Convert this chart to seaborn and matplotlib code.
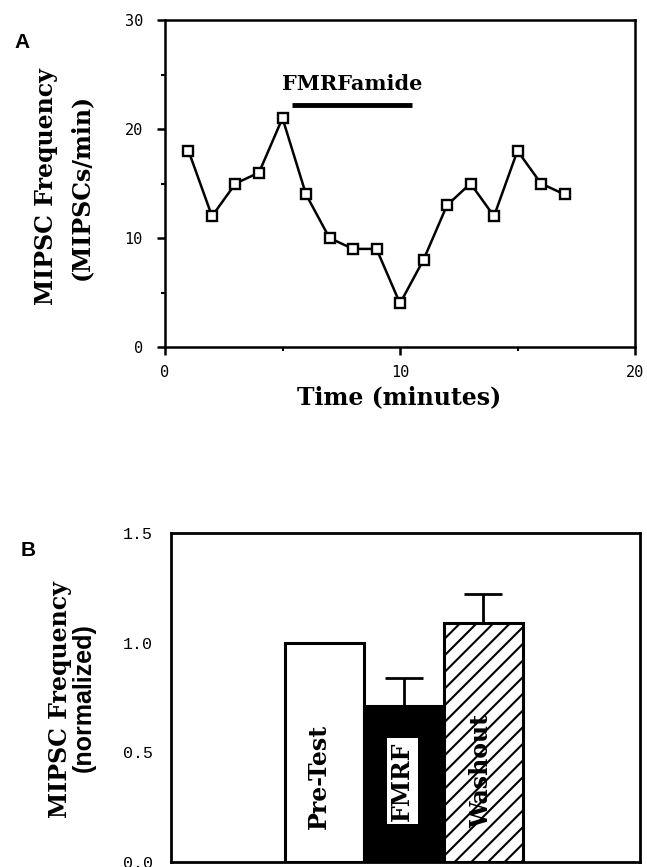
import matplotlib
matplotlib.use("Agg")
import matplotlib.pyplot as plt
import seaborn as sns
import pandas as pd

# ---- data ----
time_min = [1, 2, 3, 4, 5, 6, 7, 8, 9, 10, 11, 12, 13, 14, 15, 16, 17]
mipsc_freq = [18, 12, 15, 16, 21, 14, 10, 9, 9, 4, 8, 13, 15, 12, 18, 15, 14]
drug_start, drug_end, drug_level = 5.4, 10.5, 22.2

conditions = ["Pre-Test", "FMRF", "Washout"]
norm_freq = [1.0, 0.71, 1.09]
norm_err = [0.0, 0.13, 0.13]

sns.set_style("white")
plt.rcParams["font.family"] = ["DejaVu Sans"]
plt.rcParams.update({
    "text.color": "black", "axes.labelcolor": "black",
    "xtick.color": "black", "ytick.color": "black",
    "axes.edgecolor": "black", "hatch.linewidth": 1.5,
})

fig = plt.figure(figsize=(6.47, 8.67), dpi=100)
W, H = 647.0, 867.0

serif = "DejaVu Serif"
mono = "DejaVu Sans Mono"

# ---- Panel A ----
axA = fig.add_axes([165 / W, 1 - 347 / H, 470 / W, 327 / H])
dfA = pd.DataFrame({"t": time_min, "f": mipsc_freq})
sns.lineplot(data=dfA, x="t", y="f", ax=axA, color="black", lw=1.8,
             marker="s", markersize=7, markerfacecolor="white",
             markeredgecolor="black", markeredgewidth=1.7)
axA.plot([drug_start, drug_end], [drug_level, drug_level], color="black", lw=3.5,
         solid_capstyle="butt")
axA.text(7.95, 23.2, "FMRFamide", ha="center", va="bottom",
         fontsize=15, fontweight="bold", family=serif)
axA.set_xlim(0, 20)
axA.set_ylim(0, 30)
axA.set_xticks([0, 10, 20])
axA.set_yticks([0, 10, 20, 30])
axA.set_xticks([5, 15], minor=True)
axA.set_yticks([5, 15, 25], minor=True)
axA.tick_params(axis="both", which="major", direction="out", length=6, width=1.8,
                labelsize=11, bottom=True, left=True)
axA.tick_params(axis="x", which="major", pad=7)
axA.tick_params(axis="y", which="major", pad=10)
axA.tick_params(axis="both", which="minor", direction="out", length=3, width=1.5,
                bottom=True, left=True)
for lab in axA.get_xticklabels() + axA.get_yticklabels():
    lab.set_family(mono)
for s in axA.spines.values():
    s.set_linewidth(1.8)
axA.set_xlabel("")
axA.set_ylabel("")

fig.text(399 / W, 1 - 404 / H, "Time (minutes)", ha="center", va="baseline",
         fontsize=17, fontweight="bold", family=serif)
fig.text(46 / W, 1 - 187 / H, "MIPSC Frequency", ha="center", va="center",
         rotation=90, fontsize=17, fontweight="bold", family=serif)
fig.text(81 / W, 1 - 187 / H, "(MIPSCs/min)", ha="center", va="center",
         rotation=90, fontsize=17, fontweight="bold", family=serif)
fig.text(22 / W, 1 - 42 / H, "A", ha="center", va="center", fontsize=15,
         fontweight="bold", family="Liberation Sans")

# ---- Panel B ----
axB = fig.add_axes([171 / W, 1 - 862 / H, 469 / W, 329 / H])
dfB = pd.DataFrame({"cond": conditions, "val": norm_freq})
sns.barplot(data=dfB, x="cond", y="val", ax=axB, width=1.0, errorbar=None,
            color="white", edgecolor="black", linewidth=2.2, saturation=1)
bars = axB.patches
bars[1].set_facecolor("black")
bars[2].set_facecolor("white")
bars[2].set_hatch("//")
axB.errorbar([1, 2], norm_freq[1:], yerr=[[0, 0], norm_err[1:]], fmt="none",
             ecolor="black", elinewidth=2, capsize=14, capthick=2, zorder=1)
axB.set_xlim(-1.93, 3.97)
axB.set_ylim(0, 1.5)
axB.set_yticks([0.0, 0.5, 1.0, 1.5])
axB.set_yticklabels(["0.0", "0.5", "1.0", "1.5"])
axB.set_xticks([])
axB.tick_params(axis="y", length=0, labelsize=12, pad=13)
for lab in axB.get_yticklabels():
    lab.set_family("Liberation Mono")
for s in axB.spines.values():
    s.set_linewidth(2)
axB.set_xlabel("")
axB.set_ylabel("")

axB.text(-0.07, 0.388, "Pre-Test", rotation=90, ha="center", va="center",
         fontsize=17, fontweight="bold", family=serif)
axB.text(0.98, 0.37, "FMRF", rotation=90, ha="center", va="center",
         fontsize=17, fontweight="bold", family=serif,
         bbox=dict(facecolor="white", edgecolor="none", pad=2.5))
axB.text(1.97, 0.415, "Washout", rotation=90, ha="center", va="center",
         fontsize=17, fontweight="bold", family=serif)

fig.text(60 / W, 1 - 700 / H, "MIPSC Frequency", ha="center", va="center",
         rotation=90, fontsize=17, fontweight="bold", family=serif)
fig.text(84 / W, 1 - 698 / H, "(normalized)", ha="center", va="center",
         rotation=90, fontsize=18, fontweight="bold", family="Liberation Sans")
fig.text(28 / W, 1 - 551 / H, "B", ha="center", va="center", fontsize=15,
         fontweight="bold", family="Liberation Sans")

fig.savefig("out.png", dpi=100)
